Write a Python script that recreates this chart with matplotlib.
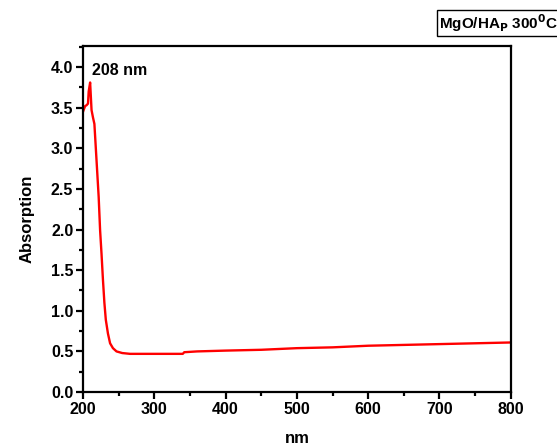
import matplotlib
matplotlib.use('Agg')
import matplotlib.pyplot as plt
from matplotlib.ticker import MultipleLocator

plt.rcParams['font.family'] = 'Liberation Sans'
plt.rcParams['font.weight'] = 'bold'

# UV-vis spectrum
wavelength = [200, 203, 205, 207, 208, 210, 212, 214, 216, 219, 222, 224, 226, 228,
              230, 232, 235, 238, 242, 247, 255, 266, 280, 300, 320, 340, 342, 360,
              400, 450, 500, 550, 600, 650, 700, 750, 800]
absorption = [3.45, 3.52, 3.53, 3.55, 3.70, 3.81, 3.47, 3.38, 3.30, 2.85, 2.40, 1.99, 1.70, 1.38,
              1.10, 0.89, 0.72, 0.60, 0.54, 0.50, 0.48, 0.47, 0.47, 0.47, 0.47, 0.47, 0.49, 0.50,
              0.51, 0.52, 0.54, 0.55, 0.57, 0.58, 0.59, 0.60, 0.61]

fig = plt.figure(figsize=(5.57, 4.46), dpi=100)
ax = fig.add_axes([0.149, 0.121, 0.768, 0.776])

ax.plot(wavelength, absorption, color='red', lw=1.7)

ax.set_xlim(200, 800)
ax.set_ylim(0, 4.26)
ax.xaxis.set_major_locator(MultipleLocator(100))
ax.xaxis.set_minor_locator(MultipleLocator(50))
ax.yaxis.set_major_locator(MultipleLocator(0.5))
ax.yaxis.set_minor_locator(MultipleLocator(0.25))
ax.yaxis.set_major_formatter(plt.FormatStrFormatter('%.1f'))

for s in ax.spines.values():
    s.set_linewidth(1.6)
ax.tick_params(which='major', direction='out', length=5, width=1.6, labelsize=11.5, pad=2)
ax.tick_params(which='minor', direction='out', length=3, width=1.6)
ax.tick_params(top=False, right=False, which='both')

ax.set_xlabel('nm', fontsize=12, fontweight='bold', labelpad=10)
ax.set_ylabel('Absorption', fontsize=12, fontweight='bold', labelpad=12)

ax.text(212, 3.96, '208 nm', fontsize=11.5, fontweight='bold', va='center', ha='left')

fig.text(0.789, 0.948, r'MgO/HA$_\mathbf{P}$ 300$^\mathbf{0}$C', fontsize=11, fontweight='bold',
         va='center', ha='left',
         bbox=dict(boxstyle='square,pad=0.15', fc='white', ec='black', lw=1.0))

fig.savefig('out.png', dpi=100)
